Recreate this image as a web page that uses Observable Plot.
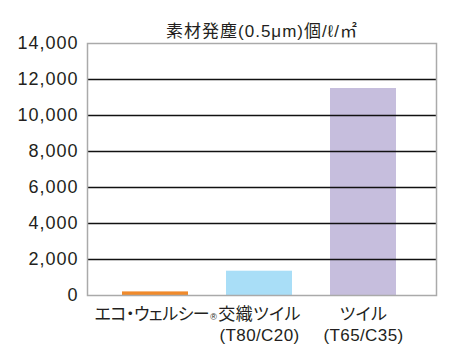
<!DOCTYPE html>
<html><head><meta charset="utf-8">
<script src="https://cdn.jsdelivr.net/npm/d3@7"></script>
<script src="https://cdn.jsdelivr.net/npm/@observablehq/plot@0.6"></script>
<style>
body{margin:0;background:#fff;}
svg{font-family:"Liberation Sans","Noto Sans CJK JP",sans-serif;font-feature-settings:"palt";}
</style></head>
<body><div id="chart"></div>
<script>
const title = "素材発塵(0.5μm)個/ℓ/㎡";
const categories = ["エコ・ウェルシー®", "交織ツイル\n(T80/C20)", "ツイル\n(T65/C35)"];
const values = [200, 1350, 11500];
const yTicks = [0, 2000, 4000, 6000, 8000, 10000, 12000, 14000];
const gridValues = [2000, 4000, 6000, 8000, 10000, 12000];
const barColors = ["#f08a2c", "#a9def7", "#c6bedd"];

const data = categories.map((c, i) => ({cat: c, val: values[i]}));

const chart = Plot.plot({
  width: 450, height: 355,
  marginTop: 43, marginBottom: 60, marginLeft: 87, marginRight: 14,
  style: {fontSize: "16px", color: "#231f20", background: "#fff"},
  x: {domain: categories, insetLeft: 15, insetRight: 21, paddingInner: 0.37, paddingOuter: 0.185, label: null},
  y: {domain: [0, 14000], label: null},
  color: {domain: categories, range: barColors},
  marks: [
    Plot.barY(data, {x: "cat", y: "val", fill: "cat"}),
    Plot.ruleY(gridValues, {stroke: "#111", strokeWidth: 1.6}),
    Plot.frame({stroke: "#aaa", strokeWidth: 1.5}),
    Plot.axisY({ticks: yTicks, tickSize: 0, tickPadding: 9, tickFormat: d3.format(","), fontSize: 18, label: null, fill: "#231f20"}),
    Plot.axisX({tickSize: 0, tickPadding: 9, fontSize: 17, lineHeight: 1.25, label: null, fill: "#231f20"}),
    Plot.text([title], {frameAnchor: "top", dy: -19, fontSize: 17, fill: "#231f20"})
  ]
});
d3.select(chart).selectAll("g[aria-label='y-axis tick label'] text").style("letter-spacing", "1px");
d3.select(chart).selectAll("g[aria-label='x-axis tick label'] text").style("letter-spacing", "0.4px");
d3.select(chart).selectAll("g[aria-label='text'] text").style("letter-spacing", "1px");
d3.select(chart).selectAll("text").filter(function () {
  return this.childElementCount === 0 && this.textContent.includes("®");
}).each(function () {
  const t = this.textContent;
  this.textContent = t.replace("®", "");
  d3.select(this).style("letter-spacing", "-0.5px");
  d3.select(this).append("tspan").attr("font-size", 9).attr("dx", 1).text("®");
});
document.getElementById("chart").appendChild(chart);
</script></body></html>
